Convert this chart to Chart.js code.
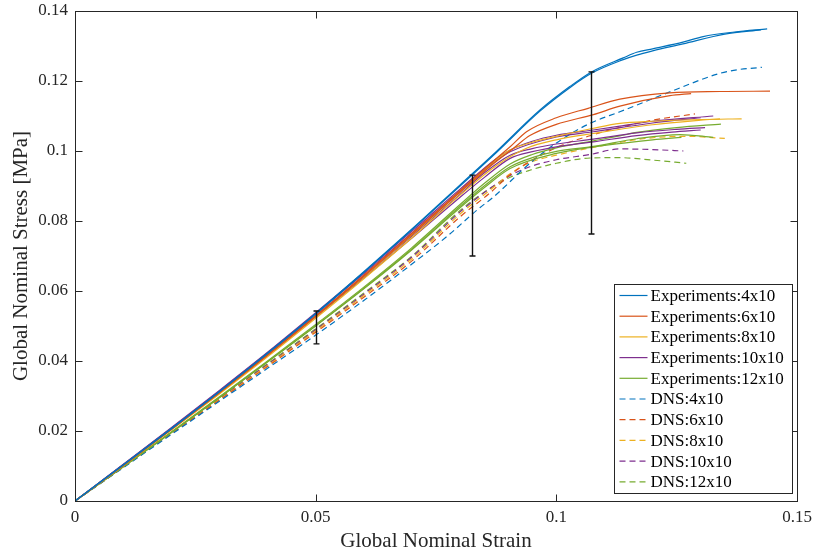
<!DOCTYPE html>
<html>
<head>
<meta charset="utf-8">
<script src="https://cdn.jsdelivr.net/npm/chart.js@4/dist/chart.umd.min.js"></script>
<style>
  html, body { margin: 0; padding: 0; background: #fff; }
  canvas { display: block; }
</style>
</head>
<body>
<canvas id="grafico" width="818" height="558"></canvas>
<script>
// Colores por defecto de MATLAB
const azul = "#0072BD"
const naranja = "#D95319"
const amarillo = "#EDB120"
const morado = "#7E2F8E"
const verde = "#77AC30"
const ejes = "#262626"

// Ensayos experimentales: pares [deformación, tensión]
const exp4x10a = [[0,0],[0.01,0.0103],[0.02,0.0207],[0.03,0.0313],[0.04,0.0423],[0.05,0.0536],[0.06,0.0655],[0.07,0.0777],[0.08,0.0903],[0.0875,0.0998],[0.0966,0.1117],[0.1028,0.1184],[0.1073,0.1226],[0.1139,0.1266],[0.1167,0.1282],[0.12,0.1292],[0.1263,0.1311],[0.1305,0.1327],[0.137,0.134],[0.1438,0.1349]]
const exp4x10b = [[0,0],[0.01,0.0103],[0.02,0.0206],[0.03,0.0312],[0.04,0.0421],[0.05,0.0534],[0.06,0.0653],[0.07,0.0775],[0.08,0.09],[0.0875,0.0995],[0.0966,0.1114],[0.1028,0.1181],[0.1073,0.1222],[0.1139,0.1261],[0.1167,0.1274],[0.12,0.1286],[0.1263,0.1306],[0.135,0.1334],[0.1425,0.1346]]
const exp6x10a = [[0,0],[0.01,0.0102],[0.02,0.0205],[0.03,0.031],[0.04,0.0418],[0.05,0.0529],[0.06,0.0645],[0.07,0.0765],[0.08,0.0887],[0.0875,0.0978],[0.0904,0.1012],[0.0938,0.1055],[0.1,0.1095],[0.1066,0.1122],[0.1132,0.1148],[0.1236,0.1166],[0.134,0.117],[0.1444,0.1171]]
const exp6x10b = [[0,0],[0.01,0.0101],[0.02,0.0204],[0.03,0.0309],[0.04,0.0416],[0.05,0.0527],[0.06,0.0642],[0.07,0.0761],[0.08,0.0882],[0.0875,0.097],[0.0911,0.1008],[0.0945,0.1044],[0.1,0.1076],[0.1077,0.1104],[0.1132,0.1128],[0.1236,0.1158],[0.128,0.1164]]
const exp8x10a = [[0,0],[0.01,0.0101],[0.02,0.0204],[0.03,0.0309],[0.04,0.0416],[0.05,0.0527],[0.06,0.0641],[0.07,0.076],[0.08,0.0882],[0.0875,0.0975],[0.0904,0.1003],[0.095,0.1025],[0.1,0.1042],[0.1077,0.1065],[0.1132,0.1079],[0.12,0.1085],[0.13,0.109],[0.1385,0.1092]]
const exp8x10b = [[0,0],[0.01,0.0101],[0.02,0.0203],[0.03,0.0306],[0.04,0.0412],[0.05,0.0522],[0.06,0.0635],[0.07,0.0752],[0.08,0.0874],[0.0875,0.0958],[0.0938,0.1008],[0.1,0.1032],[0.1077,0.105],[0.12,0.1075],[0.13,0.1088],[0.134,0.1092]]
const exp10x10a = [[0,0],[0.01,0.0104],[0.02,0.0209],[0.03,0.0316],[0.04,0.0425],[0.05,0.0538],[0.06,0.0653],[0.07,0.0771],[0.08,0.0891],[0.0875,0.0978],[0.0904,0.1003],[0.095,0.1028],[0.1,0.1045],[0.1077,0.106],[0.1132,0.1071],[0.12,0.1085],[0.1326,0.11]]
const exp10x10b = [[0,0],[0.01,0.0104],[0.02,0.0208],[0.03,0.0314],[0.04,0.0423],[0.05,0.0535],[0.06,0.0649],[0.07,0.0766],[0.08,0.0886],[0.0875,0.0972],[0.0904,0.0998],[0.1,0.104],[0.1077,0.1055],[0.12,0.108],[0.13,0.1095]]
const exp10x10c = [[0,0],[0.01,0.0103],[0.02,0.0207],[0.03,0.0312],[0.04,0.042],[0.05,0.053],[0.06,0.0642],[0.07,0.0757],[0.08,0.0876],[0.085,0.0937],[0.0904,0.0988],[0.095,0.1007],[0.1,0.102],[0.1077,0.1034],[0.1167,0.1052],[0.125,0.1062],[0.1309,0.1067]]
const exp10x10d = [[0,0],[0.01,0.0102],[0.02,0.0205],[0.03,0.031],[0.04,0.0417],[0.05,0.0526],[0.06,0.0637],[0.07,0.0751],[0.08,0.0868],[0.085,0.0924],[0.0904,0.0979],[0.095,0.0998],[0.1,0.1012],[0.1077,0.1026],[0.1167,0.1044],[0.124,0.1054],[0.13,0.106]]
const exp12x10a = [[0,0],[0.01,0.0098],[0.02,0.0197],[0.03,0.0298],[0.04,0.04],[0.05,0.0504],[0.06,0.0611],[0.07,0.0724],[0.08,0.0847],[0.085,0.0907],[0.0904,0.0963],[0.095,0.099],[0.1,0.1009],[0.1077,0.1029],[0.1132,0.1043],[0.1167,0.1053],[0.125,0.1067],[0.1342,0.1077]]
const exp12x10b = [[0,0],[0.01,0.0098],[0.02,0.0196],[0.03,0.0296],[0.04,0.0398],[0.05,0.0501],[0.06,0.0608],[0.07,0.072],[0.08,0.0842],[0.085,0.09],[0.0904,0.0955],[0.095,0.0981],[0.1,0.0999],[0.1077,0.1013],[0.1167,0.1035],[0.1257,0.1047],[0.1326,0.1039]]
const exp12x10c = [[0,0],[0.01,0.0097],[0.02,0.0195],[0.03,0.0295],[0.04,0.0397],[0.05,0.05],[0.06,0.0606],[0.07,0.0718],[0.08,0.0838],[0.085,0.0895],[0.0904,0.095],[0.1,0.0993],[0.11,0.1016],[0.12,0.1032],[0.126,0.1039]]

// Simulaciones DNS
const dns4x10 = [[0,0],[0.01,0.0095],[0.02,0.019],[0.03,0.0285],[0.04,0.0379],[0.05,0.0474],[0.06,0.0573],[0.07,0.0677],[0.0772,0.0755],[0.0841,0.0838],[0.0869,0.0868],[0.0945,0.0965],[0.1008,0.103],[0.107,0.1079],[0.1132,0.1112],[0.1236,0.1169],[0.134,0.1222],[0.1375,0.1232],[0.1427,0.1239]]
const dns6x10 = [[0,0],[0.01,0.0096],[0.02,0.0192],[0.03,0.0288],[0.04,0.0384],[0.05,0.0482],[0.06,0.0582],[0.07,0.0686],[0.08,0.0812],[0.0862,0.088],[0.0904,0.0932],[0.0945,0.097],[0.1014,0.1018],[0.1066,0.1042],[0.1125,0.1065],[0.12,0.1088],[0.1288,0.1106]]
const dns8x10 = [[0,0],[0.01,0.0097],[0.02,0.0194],[0.03,0.029],[0.04,0.0387],[0.05,0.0486],[0.06,0.0587],[0.07,0.0692],[0.08,0.082],[0.0862,0.0888],[0.0904,0.0935],[0.0945,0.0967],[0.1,0.0988],[0.1084,0.1012],[0.118,0.1035],[0.127,0.1042],[0.135,0.1036]]
const dns10x10 = [[0,0],[0.01,0.0097],[0.02,0.0195],[0.03,0.0292],[0.04,0.039],[0.05,0.0489],[0.06,0.0591],[0.07,0.0697],[0.08,0.0826],[0.0862,0.0893],[0.0904,0.093],[0.0945,0.0955],[0.1,0.0975],[0.107,0.099],[0.1132,0.1006],[0.12,0.1004],[0.1264,0.1]]
const dns12x10 = [[0,0],[0.01,0.0098],[0.02,0.0196],[0.03,0.0293],[0.04,0.0392],[0.05,0.0492],[0.06,0.0594],[0.07,0.07],[0.08,0.083],[0.0862,0.0893],[0.0904,0.0925],[0.0945,0.0945],[0.1,0.0965],[0.107,0.098],[0.1132,0.0981],[0.12,0.0974],[0.127,0.0965]]

// Barras de error: deformación, mínimo y máximo
const errDeformacion = [0.05, 0.0825, 0.1073]
const errMin = [0.0449, 0.070, 0.0763]
const errMax = [0.0543, 0.0931, 0.1226]

// Grupos de la leyenda
const etiquetas = ["Experiments:4x10", "Experiments:6x10", "Experiments:8x10", "Experiments:10x10", "Experiments:12x10",
  "DNS:4x10", "DNS:6x10", "DNS:8x10", "DNS:10x10", "DNS:12x10"]
const colores = [azul, naranja, amarillo, morado, verde, azul, naranja, amarillo, morado, verde]
const curvasPorGrupo = [
  [exp4x10a, exp4x10b],
  [exp6x10a, exp6x10b],
  [exp8x10a, exp8x10b],
  [exp10x10a, exp10x10b, exp10x10c, exp10x10d],
  [exp12x10a, exp12x10b, exp12x10c],
  [dns4x10], [dns6x10], [dns8x10], [dns10x10], [dns12x10]
]

const fuente = "'Liberation Serif', 'Times New Roman', serif"
Chart.defaults.font.family = fuente
Chart.defaults.color = ejes

const datasets = []
curvasPorGrupo.forEach((curvas, g) => {
  const discontinua = g >= 5 // los DNS van en trazo discontinuo
  curvas.forEach(c => {
    datasets.push({
      label: etiquetas[g],
      data: c.map(p => ({ x: p[0], y: p[1] })),
      borderColor: colores[g],
      borderWidth: 1.2,
      borderDash: discontinua ? [6, 4] : [],
      pointRadius: 0,
      fill: false,
      cubicInterpolationMode: "monotone"
    })
  })
})

// Marco tipo MATLAB con ticks hacia dentro, barras de error y leyenda
const marcoMatlab = {
  id: "marcoMatlab",
  afterDatasetsDraw(chart) {
    const { ctx, chartArea: a, scales: { x, y } } = chart
    ctx.save()

    // barras de error
    ctx.strokeStyle = "#111"
    ctx.lineWidth = 1.4
    errDeformacion.forEach((d, i) => {
      const px = Math.round(x.getPixelForValue(d)) + 0.5
      const p1 = y.getPixelForValue(errMin[i])
      const p2 = y.getPixelForValue(errMax[i])
      ctx.beginPath()
      ctx.moveTo(px, p1); ctx.lineTo(px, p2)
      ctx.moveTo(px - 3, p1); ctx.lineTo(px + 3, p1)
      ctx.moveTo(px - 3, p2); ctx.lineTo(px + 3, p2)
      ctx.stroke()
    })

    // caja de los ejes
    const l = Math.round(a.left) + 0.5, r = Math.round(a.right) + 0.5
    const t = Math.round(a.top) + 0.5, b = Math.round(a.bottom) + 0.5
    ctx.strokeStyle = ejes
    ctx.lineWidth = 1
    ctx.strokeRect(l, t, r - l, b - t)
    ctx.beginPath()
    x.ticks.forEach(tk => {
      const px = Math.round(x.getPixelForValue(tk.value)) + 0.5
      ctx.moveTo(px, b); ctx.lineTo(px, b - 7)
      ctx.moveTo(px, t); ctx.lineTo(px, t + 7)
    })
    y.ticks.forEach(tk => {
      const py = Math.round(y.getPixelForValue(tk.value)) + 0.5
      ctx.moveTo(l, py); ctx.lineTo(l + 7, py)
      ctx.moveTo(r, py); ctx.lineTo(r - 7, py)
    })
    ctx.stroke()

    // leyenda dentro del área, abajo a la derecha
    const ancho = 178, alto = 209
    const lx = Math.round(a.right - 5 - ancho) + 0.5
    const ly = Math.round(a.bottom - 8 - alto) + 0.5
    ctx.fillStyle = "#fff"
    ctx.fillRect(lx, ly, ancho, alto)
    ctx.strokeStyle = ejes
    ctx.strokeRect(lx, ly, ancho, alto)
    ctx.font = "17px " + fuente
    ctx.textBaseline = "middle"
    etiquetas.forEach((txt, i) => {
      const fy = ly + 11 + i * 20.7
      ctx.strokeStyle = colores[i]
      ctx.lineWidth = 1.2
      ctx.setLineDash(i >= 5 ? [6, 4] : [])
      ctx.beginPath()
      ctx.moveTo(lx + 5, fy); ctx.lineTo(lx + 33, fy)
      ctx.stroke()
      ctx.setLineDash([])
      ctx.fillStyle = "#000"
      ctx.fillText(txt, lx + 36, fy + 1)
    })
    ctx.restore()
  }
}

const fmt = v => String(+v.toFixed(2))

new Chart(document.getElementById("grafico"), {
  type: "line",
  data: { datasets },
  options: {
    responsive: false,
    animation: false,
    devicePixelRatio: 1,
    layout: { padding: { top: 11, right: 21, left: 0, bottom: 0 } },
    plugins: { legend: { display: false }, tooltip: { enabled: false } },
    scales: {
      x: {
        type: "linear",
        min: 0, max: 0.15,
        grid: { display: false, drawTicks: false },
        border: { display: false },
        ticks: { stepSize: 0.05, padding: 6, maxRotation: 0, font: { size: 17 }, color: ejes, callback: fmt },
        title: { display: true, text: "Global Nominal Strain", font: { size: 21 }, color: ejes, padding: { top: 0, bottom: 4 } },
        afterFit: s => { s.height = 57; s.paddingLeft = 0; s.paddingRight = 0 }
      },
      y: {
        type: "linear",
        min: 0, max: 0.14,
        grid: { display: false, drawTicks: false },
        border: { display: false },
        ticks: { stepSize: 0.02, padding: 7, font: { size: 17 }, color: ejes, callback: fmt },
        title: { display: true, text: "Global Nominal Stress [MPa]", font: { size: 21 }, color: ejes, padding: { top: 9, bottom: 0 } },
        afterFit: s => { s.width = 75; s.paddingTop = 0; s.paddingBottom = 0 }
      }
    }
  },
  plugins: [marcoMatlab]
})
</script>
</body>
</html>
